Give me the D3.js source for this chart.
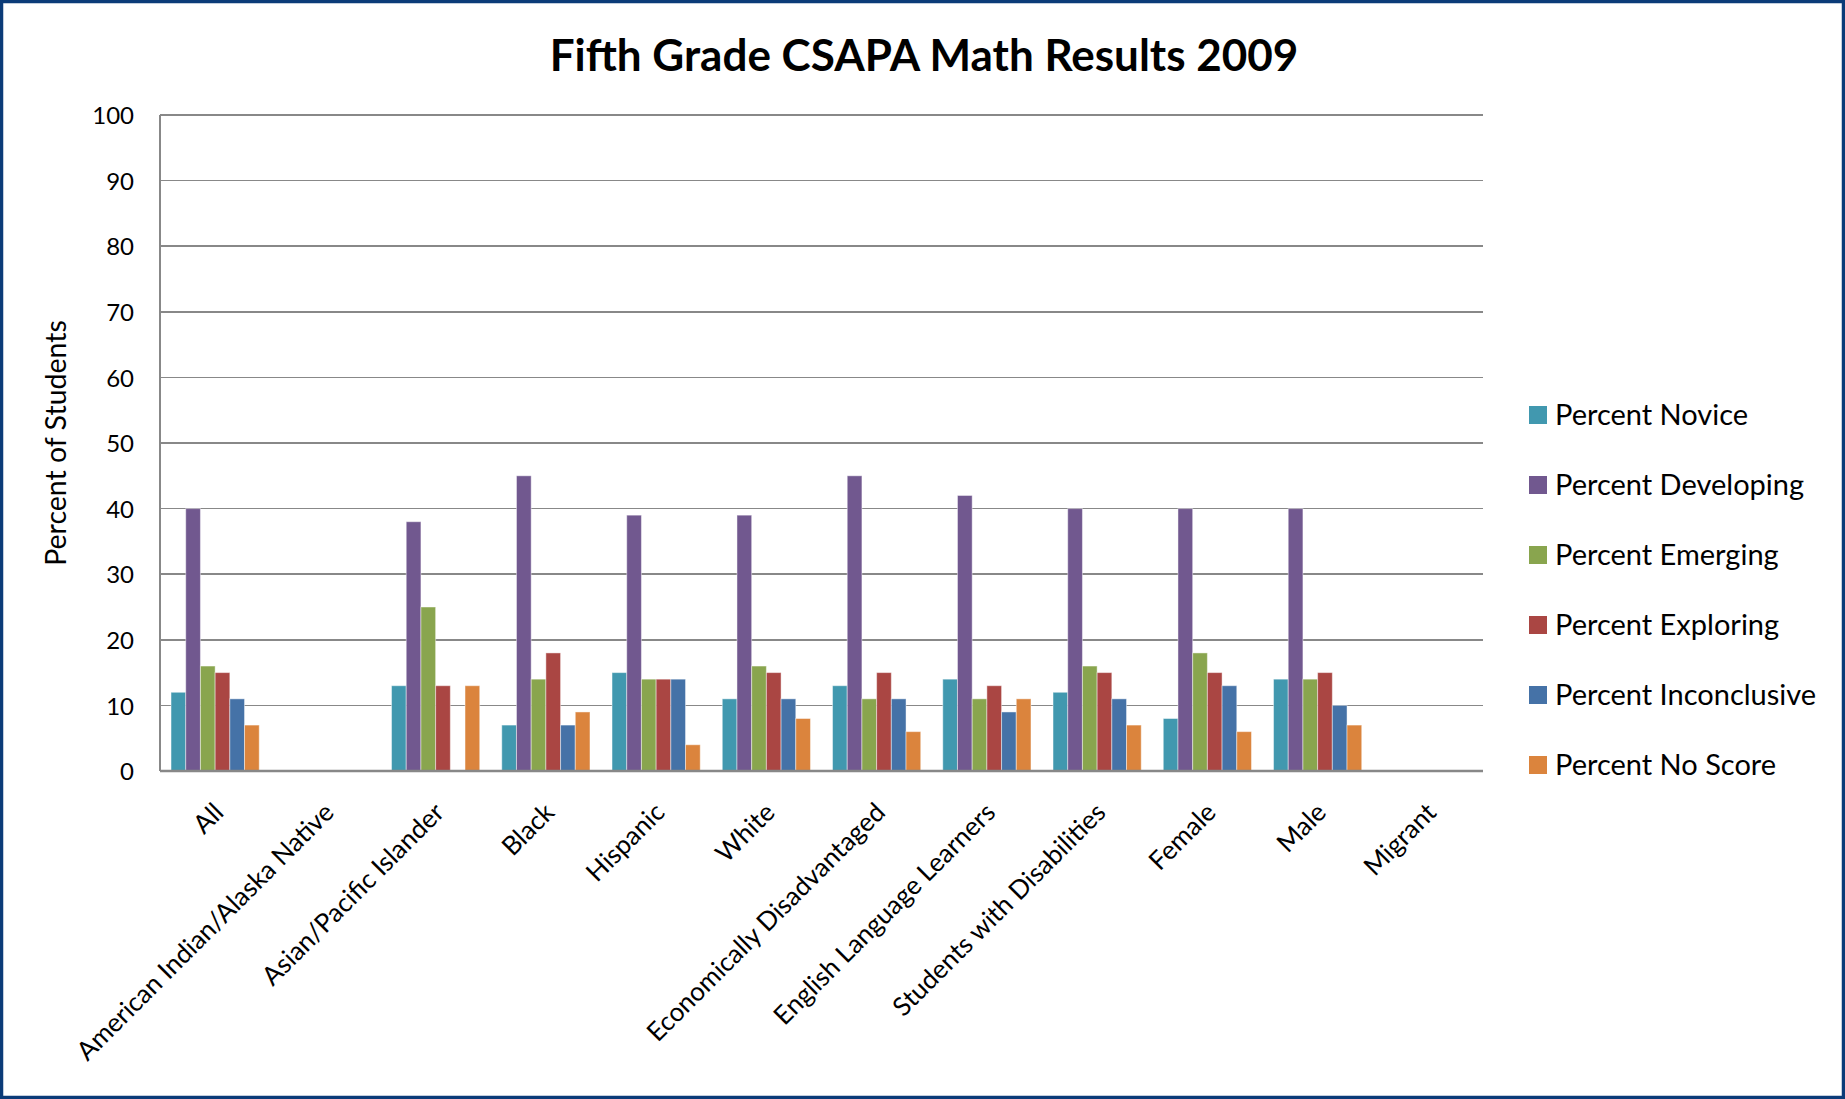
<!DOCTYPE html>
<html>
<head>
<meta charset="utf-8">
<style>
body { margin: 0; background: #fff; }
svg { display: block; font-family: Lato, "Open Sans", sans-serif; }
.grid line { stroke: #888888; stroke-width: 1.6; shape-rendering: crispEdges; }
.axis path, .axis line { stroke: none; }
.axis text { font-family: Lato, "Open Sans", sans-serif; font-size: 24px; fill: #000; }
</style>
</head>
<body>
<svg width="1845" height="1099"></svg>
<script src="https://d3js.org/d3.v7.min.js"></script>
<script>
// data
var categories = ["All", "American Indian/Alaska Native", "Asian/Pacific Islander", "Black",
  "Hispanic", "White", "Economically Disadvantaged", "English Language Learners",
  "Students with Disabilities", "Female", "Male", "Migrant"];
var seriesNames = ["Percent Novice", "Percent Developing", "Percent Emerging",
  "Percent Exploring", "Percent Inconclusive", "Percent No Score"];
var novice       = [12, null, 13,  7, 15, 11, 13, 14, 12,  8, 14, null];
var developing   = [40, null, 38, 45, 39, 39, 45, 42, 40, 40, 40, null];
var emerging     = [16, null, 25, 14, 14, 16, 11, 11, 16, 18, 14, null];
var exploring    = [15, null, 13, 18, 14, 15, 15, 13, 15, 15, 15, null];
var inconclusive = [11, null, null, 7, 14, 11, 11,  9, 11, 13, 10, null];
var noScore      = [ 7, null, 13,  9,  4,  8,  6, 11,  7,  6,  7, null];
var yTicks = [0, 10, 20, 30, 40, 50, 60, 70, 80, 90, 100];
var colors = ["#4198AF", "#71588F", "#89A54E", "#AA4643", "#4572A7", "#DB843D"];

var series = [novice, developing, emerging, exploring, inconclusive, noScore];

var svg = d3.select("svg"),
    margin = {top: 115, right: 362, bottom: 328, left: 160},
    width = +svg.attr("width") - margin.left - margin.right,
    height = +svg.attr("height") - margin.top - margin.bottom;

// frame
svg.append("rect")
    .attr("x", 1.5).attr("y", 1.5)
    .attr("width", 1842).attr("height", 1096)
    .attr("fill", "#fff")
    .attr("stroke", "#0B3B78")
    .attr("stroke-width", 3.5);

var g = svg.append("g").attr("transform", "translate(" + margin.left + "," + margin.top + ")");

var x0 = d3.scaleBand().domain(categories).range([0, width]).paddingInner(0.2).paddingOuter(0.1);
var x1 = d3.scaleBand().domain(seriesNames).range([0, x0.bandwidth()]);
var y = d3.scaleLinear().domain([0, 100]).range([height, 0]);
var z = d3.scaleOrdinal().domain(seriesNames).range(colors);

// gridlines
g.append("g")
    .attr("class", "grid")
  .selectAll("line")
  .data(yTicks.slice(1))
  .enter().append("line")
    .attr("x1", 0).attr("x2", width)
    .attr("y1", function(d) { return y(d); })
    .attr("y2", function(d) { return y(d); });

// bars
var rows = categories.map(function(c, i) {
  return {cat: c, vals: seriesNames.map(function(s, j) { return {key: s, value: series[j][i]}; })};
});

g.append("g")
  .selectAll("g")
  .data(rows)
  .enter().append("g")
    .attr("transform", function(d) { return "translate(" + x0(d.cat) + ",0)"; })
  .selectAll("rect")
  .data(function(d) { return d.vals.filter(function(v) { return v.value != null; }); })
  .enter().append("rect")
    .attr("x", function(d) { return x1(d.key); })
    .attr("y", function(d) { return y(d.value); })
    .attr("width", x1.bandwidth())
    .attr("height", function(d) { return height - y(d.value); })
    .attr("fill", function(d) { return z(d.key); })
    .attr("stroke", "rgba(255,255,255,0.45)")
    .attr("stroke-width", 1);

// axis lines
g.append("line")
    .attr("x1", 0).attr("x2", 0).attr("y1", 0).attr("y2", height)
    .attr("stroke", "#888888").attr("stroke-width", 2);
g.append("line")
    .attr("x1", 0).attr("x2", width).attr("y1", height).attr("y2", height)
    .attr("stroke", "#888888").attr("stroke-width", 2.5);

// y axis
g.append("g")
    .attr("class", "axis")
    .attr("font-family", null)
    .call(d3.axisLeft(y).tickValues(yTicks).tickSize(0).tickPadding(26))
  .selectAll("text")
    .attr("dy", "0.36em");

// x labels
g.append("g")
  .selectAll("text")
  .data(categories)
  .enter().append("text")
    .attr("transform", function(d) {
      return "translate(" + (x0(d) + x0.bandwidth() / 2 - 3) + "," + (height + 30) + ") rotate(-45)";
    })
    .attr("text-anchor", "end")
    .attr("dy", "0.71em")
    .style("font-size", "26px")
    .text(function(d) { return d; });

// y title
svg.append("text")
    .attr("transform", "translate(66,443) rotate(-90)")
    .attr("text-anchor", "middle")
    .style("font-size", "28.5px")
    .text("Percent of Students");

// title
svg.append("text")
    .attr("x", 924)
    .attr("y", 71)
    .attr("text-anchor", "middle")
    .style("font-size", "44px")
    .style("font-weight", "bold")
    .text("Fifth Grade CSAPA Math Results 2009");

// legend
var legend = svg.append("g")
  .selectAll("g")
  .data(seriesNames)
  .enter().append("g")
    .attr("transform", function(d, i) { return "translate(1529," + (415 + i * 70) + ")"; });

legend.append("rect")
    .attr("y", -9)
    .attr("width", 18)
    .attr("height", 18)
    .attr("fill", z);

legend.append("text")
    .attr("x", 26)
    .attr("dy", "0.36em")
    .style("font-size", "29px")
    .text(function(d) { return d; });
</script>
</body>
</html>
